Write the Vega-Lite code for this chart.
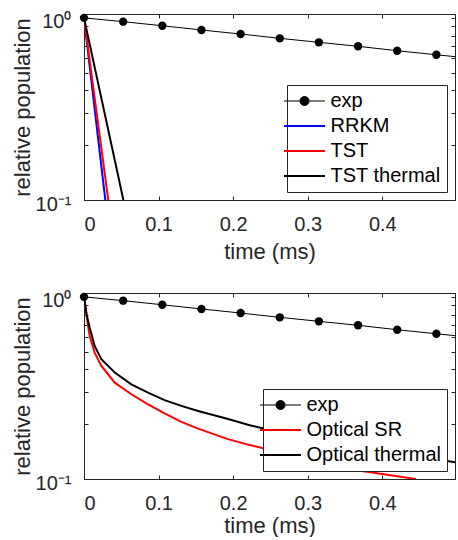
{
  "$schema": "https://vega.github.io/schema/vega-lite/v6.json",
  "padding": {"left": 10, "top": 11, "right": 0, "bottom": 0},
  "background": "white",
  "spacing": 27,
  "config": {
    "font": "Liberation Sans",
    "view": {"stroke": "#262626", "strokeWidth": 1},
    "axis": {
      "labelFont": "Liberation Sans", "labelFontSize": 20, "labelColor": "#262626",
      "titleFont": "Liberation Sans", "titleFontSize": 22, "titleFontWeight": "normal", "titleColor": "#262626",
      "domainColor": "#262626", "tickColor": "#262626", "grid": false, "tickSize": -4
    },
    "axisX": {"labelPadding": 18, "titleY": 51, "titleBaseline": "middle"},
    "axisY": {"labelPadding": 17, "labelOffset": 4, "titleX": -62, "titleBaseline": "middle"},
    "legend": {
      "orient": "bottom-right", "offset": 8, "fillColor": "white", "strokeColor": "#262626", "padding": 6,
      "labelFont": "Liberation Sans", "labelFontSize": 20, "labelColor": "#000000", "labelOffset": 16, "symbolOffset": 1.5,
      "symbolType": "stroke", "symbolSize": 1681, "symbolStrokeWidth": 2, "rowPadding": 5, "title": null
    }
  },
  "resolve": {"scale": {"color": "independent"}, "legend": {"color": "independent"}},
  "datasets": {
    "exp": [
      {"series": "exp", "t": 0, "v": 1.0},
      {"series": "exp", "t": 0.0525, "v": 0.953},
      {"series": "exp", "t": 0.105, "v": 0.905},
      {"series": "exp", "t": 0.1575, "v": 0.858},
      {"series": "exp", "t": 0.21, "v": 0.815},
      {"series": "exp", "t": 0.2625, "v": 0.772},
      {"series": "exp", "t": 0.315, "v": 0.734},
      {"series": "exp", "t": 0.3675, "v": 0.698},
      {"series": "exp", "t": 0.42, "v": 0.66},
      {"series": "exp", "t": 0.4725, "v": 0.627},
      {"series": "exp", "t": 0.5, "v": 0.611}
    ],
    "top": [
      {"series": "RRKM", "t": 0, "v": 1.0},
      {"series": "RRKM", "t": 0.0286, "v": 0.1},
      {"series": "TST", "t": 0, "v": 1.0},
      {"series": "TST", "t": 0.0325, "v": 0.1},
      {"series": "TST thermal", "t": 0, "v": 1.0},
      {"series": "TST thermal", "t": 0.0528, "v": 0.1}
    ],
    "bottom": [
      {"series": "Optical SR", "t": 0, "v": 1.0},
      {"series": "Optical SR", "t": 0.0045, "v": 0.738},
      {"series": "Optical SR", "t": 0.0076, "v": 0.61},
      {"series": "Optical SR", "t": 0.0143, "v": 0.494},
      {"series": "Optical SR", "t": 0.0233, "v": 0.418},
      {"series": "Optical SR", "t": 0.0412, "v": 0.338},
      {"series": "Optical SR", "t": 0.0635, "v": 0.292},
      {"series": "Optical SR", "t": 0.0859, "v": 0.257},
      {"series": "Optical SR", "t": 0.108, "v": 0.229},
      {"series": "Optical SR", "t": 0.1306, "v": 0.206},
      {"series": "Optical SR", "t": 0.153, "v": 0.189},
      {"series": "Optical SR", "t": 0.192, "v": 0.166},
      {"series": "Optical SR", "t": 0.221, "v": 0.154},
      {"series": "Optical SR", "t": 0.3, "v": 0.129},
      {"series": "Optical SR", "t": 0.366, "v": 0.1116},
      {"series": "Optical SR", "t": 0.445, "v": 0.1},
      {"series": "Optical thermal", "t": 0, "v": 1.0},
      {"series": "Optical thermal", "t": 0.0035, "v": 0.8},
      {"series": "Optical thermal", "t": 0.0076, "v": 0.678},
      {"series": "Optical thermal", "t": 0.0143, "v": 0.538},
      {"series": "Optical thermal", "t": 0.0233, "v": 0.455},
      {"series": "Optical thermal", "t": 0.0412, "v": 0.384},
      {"series": "Optical thermal", "t": 0.0635, "v": 0.331},
      {"series": "Optical thermal", "t": 0.0859, "v": 0.298},
      {"series": "Optical thermal", "t": 0.108, "v": 0.271},
      {"series": "Optical thermal", "t": 0.1306, "v": 0.252},
      {"series": "Optical thermal", "t": 0.153, "v": 0.236},
      {"series": "Optical thermal", "t": 0.192, "v": 0.214},
      {"series": "Optical thermal", "t": 0.221, "v": 0.198},
      {"series": "Optical thermal", "t": 0.3, "v": 0.166},
      {"series": "Optical thermal", "t": 0.4, "v": 0.142},
      {"series": "Optical thermal", "t": 0.485, "v": 0.126},
      {"series": "Optical thermal", "t": 0.5, "v": 0.123}
    ]
  },
  "vconcat": [
    {
      "width": 371, "height": 186,
      "resolve": {"axis": {"x": "independent", "y": "independent"}},
      "layer": [
        {
          "data": {"name": "exp"},
          "mark": {"type": "line", "clip": true, "strokeWidth": 1},
          "encoding": {
            "x": {"field": "t", "type": "quantitative", "scale": {"domain": [0, 0.4975], "nice": false, "zero": false},
                  "axis": {"orient": "bottom", "values": [0, 0.1, 0.2, 0.3, 0.4], "labelExpr": "datum.value == 0 ? '0' : format(datum.value, '.1f')", "title": "time (ms)"}},
            "y": {"field": "v", "type": "quantitative", "scale": {"type": "log", "domain": [0.1, 1.05], "nice": false},
                  "axis": {"orient": "left", "values": [0.1, 0.2, 0.3, 0.4, 0.5, 0.6, 0.7, 0.8, 0.9, 1], "labelExpr": "datum.value == 1 ? '10⁰' : (datum.value == 0.1 ? '10⁻¹' : '')", "title": "relative population"}},
            "color": {"field": "series", "type": "nominal",
                      "scale": {"domain": ["exp", "RRKM", "TST", "TST thermal"], "range": ["#000000", "#0000ff", "#ff0000", "#000000"]},
                      "legend": {"encode": {"symbols": {"update": {
                        "shape": {"signal": "datum.value === 'exp' ? 'M-1,0H1M0.22,0A0.22,0.22,0,1,1,-0.22,0A0.22,0.22,0,1,1,0.22,0' : 'stroke'"},
                        "strokeWidth": {"signal": "datum.value === 'exp' ? 1 : 2"},
                        "fill": {"value": "#000000"}}}}}}
          }
        },
        {
          "data": {"name": "top"},
          "mark": {"type": "line", "clip": true, "strokeWidth": 2},
          "encoding": {
            "x": {"field": "t", "type": "quantitative", "axis": null},
            "y": {"field": "v", "type": "quantitative", "axis": null},
            "color": {"field": "series", "type": "nominal"}
          }
        },
        {
          "data": {"name": "exp"},
          "transform": [{"filter": "datum.t < 0.49"}],
          "mark": {"type": "point", "filled": true, "size": 70, "opacity": 1, "color": "#000000"},
          "encoding": {
            "x": {"field": "t", "type": "quantitative", "axis": {"orient": "top", "values": [0, 0.1, 0.2, 0.3, 0.4], "labels": false, "title": null}},
            "y": {"field": "v", "type": "quantitative", "axis": {"orient": "right", "values": [0.1, 0.2, 0.3, 0.4, 0.5, 0.6, 0.7, 0.8, 0.9, 1], "labels": false, "title": null}}
          }
        }
      ]
    },
    {
      "width": 371, "height": 186,
      "resolve": {"axis": {"x": "independent", "y": "independent"}},
      "layer": [
        {
          "data": {"name": "exp"},
          "mark": {"type": "line", "clip": true, "strokeWidth": 1},
          "encoding": {
            "x": {"field": "t", "type": "quantitative", "scale": {"domain": [0, 0.4975], "nice": false, "zero": false},
                  "axis": {"orient": "bottom", "values": [0, 0.1, 0.2, 0.3, 0.4], "labelExpr": "datum.value == 0 ? '0' : format(datum.value, '.1f')", "title": "time (ms)", "titleY": 46}},
            "y": {"field": "v", "type": "quantitative", "scale": {"type": "log", "domain": [0.1, 1.05], "nice": false},
                  "axis": {"orient": "left", "values": [0.1, 0.2, 0.3, 0.4, 0.5, 0.6, 0.7, 0.8, 0.9, 1], "labelExpr": "datum.value == 1 ? '10⁰' : (datum.value == 0.1 ? '10⁻¹' : '')", "title": "relative population"}},
            "color": {"field": "series", "type": "nominal",
                      "scale": {"domain": ["exp", "Optical SR", "Optical thermal"], "range": ["#000000", "#ff0000", "#000000"]},
                      "legend": {"encode": {"symbols": {"update": {
                        "shape": {"signal": "datum.value === 'exp' ? 'M-1,0H1M0.22,0A0.22,0.22,0,1,1,-0.22,0A0.22,0.22,0,1,1,0.22,0' : 'stroke'"},
                        "strokeWidth": {"signal": "datum.value === 'exp' ? 1 : 2"},
                        "fill": {"value": "#000000"}}}}}}
          }
        },
        {
          "data": {"name": "bottom"},
          "mark": {"type": "line", "clip": true, "strokeWidth": 2},
          "encoding": {
            "x": {"field": "t", "type": "quantitative", "axis": null},
            "y": {"field": "v", "type": "quantitative", "axis": null},
            "color": {"field": "series", "type": "nominal"}
          }
        },
        {
          "data": {"name": "exp"},
          "transform": [{"filter": "datum.t < 0.49"}],
          "mark": {"type": "point", "filled": true, "size": 70, "opacity": 1, "color": "#000000"},
          "encoding": {
            "x": {"field": "t", "type": "quantitative", "axis": {"orient": "top", "values": [0, 0.1, 0.2, 0.3, 0.4], "labels": false, "title": null}},
            "y": {"field": "v", "type": "quantitative", "axis": {"orient": "right", "values": [0.1, 0.2, 0.3, 0.4, 0.5, 0.6, 0.7, 0.8, 0.9, 1], "labels": false, "title": null}}
          }
        }
      ]
    }
  ]
}
